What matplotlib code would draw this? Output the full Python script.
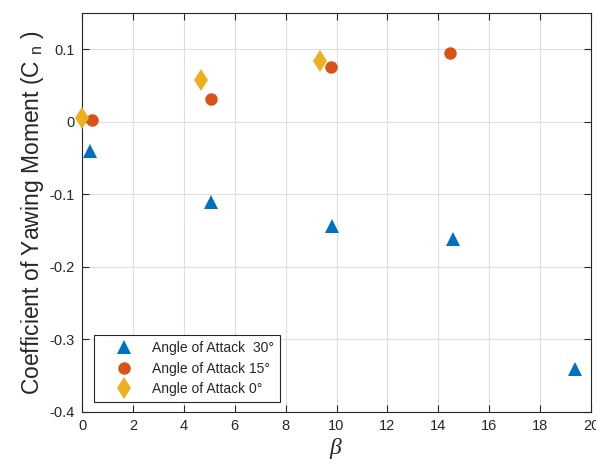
import matplotlib
matplotlib.use('Agg')
import matplotlib.pyplot as plt

plt.rcParams['font.family'] = ['Liberation Sans', 'DejaVu Sans']
plt.rcParams['mathtext.fontset'] = 'custom'
plt.rcParams['mathtext.rm'] = 'Liberation Sans'
plt.rcParams['mathtext.it'] = 'Liberation Serif:italic'

#----------------------------------------------------
# Data
#----------------------------------------------------
beta_30 = [0.31, 5.07, 9.84, 14.56, 19.37]
cn_30 = [-0.040, -0.110, -0.143, -0.161, -0.341]

beta_15 = [0.38, 5.07, 9.78, 14.47]
cn_15 = [0.003, 0.032, 0.076, 0.095]

beta_0 = [0.0, 4.69, 9.37]
cn_0 = [0.005, 0.058, 0.084]

labels = ['Angle of Attack  30°', 'Angle of Attack 15°', 'Angle of Attack 0°']
xticks = list(range(0, 21, 2))
yticks = [-0.4, -0.3, -0.2, -0.1, 0, 0.1]
ytick_labels = ['-0.4', '-0.3', '-0.2', '-0.1', '0', '0.1']

c_blue = '#0072BD'
c_red = '#D95319'
c_yel = '#EDB120'
txt = '#262626'

#----------------------------------------------------
# Plot
#----------------------------------------------------
fig = plt.figure(figsize=(5.96, 4.65), dpi=100)
ax = fig.add_axes([0.1376, 0.114, 0.854, 0.858])

ax.plot(beta_30, cn_30, '^', color=c_blue, markersize=10, markeredgewidth=0,
        label=labels[0], clip_on=False, zorder=3)
ax.plot(beta_15, cn_15, 'o', color=c_red, markersize=9, markeredgewidth=0,
        label=labels[1], clip_on=False, zorder=3)
ax.plot(beta_0, cn_0, 'd', color=c_yel, markersize=11.5, markeredgewidth=0,
        label=labels[2], clip_on=False, zorder=3)

ax.set_xlim(0, 20)
ax.set_ylim(-0.4, 0.15)
ax.set_xticks(xticks)
ax.set_yticks(yticks)
ax.set_yticklabels(ytick_labels)

ax.grid(True, color='#dfdfdf', linewidth=0.8)
ax.set_axisbelow(True)
ax.tick_params(direction='in', top=True, right=True, length=5, width=0.8,
               labelsize=10.5, colors=txt, labelcolor=txt, pad=5)
for s in ax.spines.values():
    s.set_color(txt)
    s.set_linewidth(0.8)

ax.set_xlabel(r'$\beta$', fontsize=17, color=txt, labelpad=2)
ax.set_ylabel(r'Coefficient of Yawing Moment (C $_{\rm n}$ )', fontsize=16.5, color=txt, labelpad=3)

leg = ax.legend(loc='lower left', bbox_to_anchor=(0.0236, 0.025), borderaxespad=0,
                fontsize=10, fancybox=False, edgecolor=txt, framealpha=1,
                borderpad=0.45, handletextpad=0.3, labelspacing=0.45, handlelength=3.4)
leg.get_frame().set_linewidth(0.8)
for t in leg.get_texts():
    t.set_color(txt)

fig.savefig('out.png', dpi=100)
